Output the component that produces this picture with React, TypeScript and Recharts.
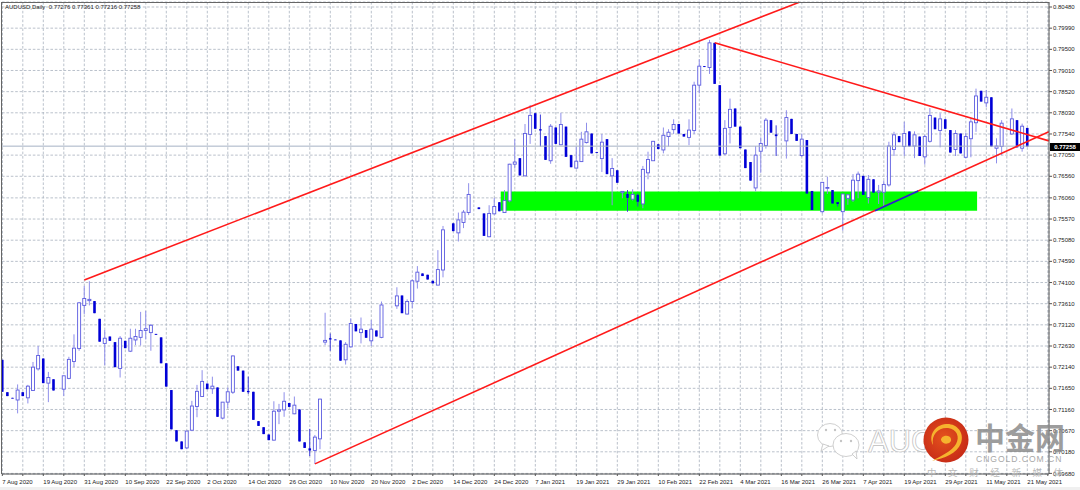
import { Bar, CartesianGrid, ComposedChart, ReferenceArea, ReferenceLine, XAxis, YAxis } from 'recharts';

// daily AUDUSD bars, left to right. null = no visible candle in the screenshot
const opens = [
  0.7231, 0.7156, 0.7143, 0.7138, 0.7156, 0.7143, 0.716, 0.721, 0.7234, 0.7177,
  0.7186, null, 0.7163, 0.7188, 0.7227, 0.7257, 0.7357, 0.7368, 0.7367, 0.7326,
  0.7269, 0.7285, 0.7272, 0.7211, 0.7275, 0.7251, 0.7277, 0.7283, 0.7299, 0.7294,
  0.7291, 0.7283, 0.7223, 0.7161, 0.7068, 0.7042, 0.7027, 0.7068, 0.7123, 0.7146,
  0.7176, 0.7164, 0.7167, 0.7096, 0.7133, 0.7156, 0.7216, 0.7206, 0.7159, 0.7157,
  0.7089, 0.7075, 0.7058, 0.7045, 0.7112, 0.7115, 0.7131, 0.7106, 0.7116, 0.704,
  0.7026, 0.7021, 0.7048, 0.7272, 0.7281, 0.7278, 0.7276, 0.7231, 0.7261, 0.7314,
  0.7294, 0.73, 0.7275, 0.7299, 0.7283, null, null, 0.7356, 0.738, 0.7337,
  0.7366, 0.7413, 0.7431, 0.7428, 0.7414, 0.7404, 0.7439, null, 0.7547, 0.7525,
  0.7549, 0.7572, null, 0.7584, 0.757, 0.7516, 0.7569, 0.7596, 0.7572, 0.7599,
  0.7684, 0.7698, 0.7657, 0.7753, 0.7802, 0.7765, 0.7749, 0.7692, 0.7769, 0.7729,
  0.7771, 0.7705, 0.7675, 0.769, 0.7734, 0.7755, 0.7712, 0.7697, 0.7742, 0.7657,
  0.767, 0.7618, 0.7615, 0.7603, 0.7613, 0.7592, 0.7664, 0.7692, 0.773, 0.7717,
  0.7748, 0.7764, 0.7777, 0.7754, 0.7746, 0.7762, 0.7867, 0.7911, 0.7908, 0.7965,
  0.7867, 0.7708, 0.7769, 0.7813, 0.7771, 0.7718, 0.7689, 0.7629, 0.7714, 0.7727,
  0.7786, 0.7753, null, 0.7738, 0.7789, 0.7754, 0.7704, 0.774, 0.7622, null,
  0.7574, 0.7629, 0.7624, 0.7596, 0.7574, 0.7605, 0.7601, 0.7646, 0.7657, 0.7607,
  0.7649, 0.7619, 0.7619, 0.7636, 0.7718, 0.7749, 0.7725, 0.776, 0.7726, 0.7748,
  0.7701, 0.7737, 0.7792, 0.7762, 0.7788, 0.7763, 0.7718, 0.7755, 0.77, 0.7743,
  0.778, 0.7854, 0.7826, 0.7839, 0.7721, 0.7725, null, 0.7754, 0.7786, 0.7721, 0.7768,
];

const highs = [
  0.7231, 0.7156, 0.7143, 0.7174, 0.7156, 0.7173, 0.7226, 0.7263, 0.7234, 0.7203,
  0.7186, null, 0.7194, 0.7238, 0.729, 0.7365, 0.7402, 0.7413, 0.7367, 0.7326,
  0.73, 0.7285, 0.7272, 0.7286, 0.7275, 0.7303, 0.7303, 0.7342, 0.7344, 0.7314,
  0.7291, 0.7283, 0.7223, 0.7161, 0.7068, 0.7042, 0.7066, 0.7136, 0.7173, 0.7207,
  0.7176, 0.7192, 0.7167, 0.7133, 0.7167, 0.7241, 0.7216, 0.7206, 0.7192, 0.7157,
  0.7089, 0.7075, 0.7058, 0.7135, 0.7129, 0.7156, 0.7131, 0.7146, 0.7116, 0.704,
  0.7071, 0.7057, 0.7141, 0.734, 0.7292, 0.7278, 0.7276, 0.7272, 0.7327, 0.7314,
  0.7329, 0.73, 0.7323, 0.7299, 0.7366, null, null, 0.7399, 0.738, 0.7371,
  0.7417, 0.7448, 0.7431, 0.7428, 0.7414, 0.7485, 0.7541, null, 0.7547, 0.7572,
  0.7578, 0.764, null, 0.7584, 0.757, 0.7589, 0.7606, 0.7596, 0.7624, 0.7685,
  0.7742, 0.7698, 0.7777, 0.7821, 0.7802, 0.7799, 0.7749, 0.7777, 0.7769, 0.7803,
  0.7771, 0.7705, 0.7725, 0.7759, 0.778, 0.7755, 0.7712, 0.7754, 0.7742, 0.7698,
  0.767, 0.7621, 0.7624, 0.7626, 0.7616, 0.768, 0.7713, 0.7738, 0.773, 0.7769,
  0.7765, 0.7788, 0.7777, 0.7754, 0.7788, 0.7875, 0.7927, 0.7911, 0.7972, 0.7965,
  0.7867, 0.7786, 0.7836, 0.7813, 0.7771, 0.7718, 0.7689, 0.7726, 0.7746, 0.7791,
  0.7786, 0.7774, null, 0.7809, 0.7789, 0.7754, 0.7755, 0.774, 0.7622, null,
  0.7643, 0.7655, 0.7624, 0.7596, 0.7615, 0.7615, 0.7661, 0.7667, 0.7657, 0.7659,
  0.7649, 0.7636, 0.7646, 0.7736, 0.7759, 0.7749, 0.7782, 0.776, 0.776, 0.7748,
  0.7752, 0.7814, 0.7792, 0.7802, 0.7788, 0.7763, 0.7763, 0.7755, 0.7757, 0.779,
  0.7859, 0.7854, 0.7856, 0.7839, 0.7744, 0.7786, null, 0.7813, 0.7786, 0.7778, 0.7768,
];

const lows = [
  0.7157, 0.7147, 0.7142, 0.7107, 0.7147, 0.713, 0.7159, 0.7206, 0.7177, 0.7133,
  0.716, null, 0.7147, 0.7186, 0.7214, 0.7252, 0.7337, 0.7357, 0.7339, 0.7273,
  0.7218, 0.7275, 0.7214, 0.719, 0.7258, 0.7249, 0.7265, 0.7264, 0.7278, 0.7252,
  0.7289, 0.7223, 0.7169, 0.707, 0.7042, 0.7024, 0.7024, 0.7066, 0.7098, 0.7146,
  0.7163, 0.7152, 0.7099, 0.7093, 0.7119, 0.7152, 0.7206, 0.7157, 0.7152, 0.7092,
  0.7078, 0.7059, 0.7045, 0.7044, 0.7082, 0.7099, 0.7122, 0.7105, 0.7042, 0.7027,
  0.7008, 0.699, 0.7024, 0.7265, 0.7252, 0.7277, 0.7229, 0.722, 0.726, 0.7297,
  0.7269, 0.7282, 0.7263, 0.7285, 0.7281, null, null, 0.7349, 0.7339, 0.7336,
  0.735, 0.7396, 0.7425, 0.7417, 0.7408, 0.7404, 0.7422, null, 0.7529, 0.7505,
  0.7536, 0.7566, null, 0.758, 0.7518, 0.7515, 0.7568, 0.7575, 0.7571, 0.7596,
  0.7674, 0.7658, 0.7656, 0.7731, 0.7766, 0.7725, 0.7694, 0.7685, 0.7731, 0.7728,
  0.7701, 0.7677, 0.7674, 0.7689, 0.7732, 0.7709, 0.7711, 0.7666, 0.7661, 0.7589,
  0.7641, 0.7605, 0.7574, 0.76, 0.7586, 0.7582, 0.7649, 0.7692, 0.7719, 0.7709,
  0.7725, 0.7754, 0.7755, 0.7748, 0.7728, 0.7754, 0.7848, 0.7909, 0.7893, 0.787,
  0.7704, 0.7705, 0.7732, 0.7771, 0.7721, 0.7675, 0.7646, 0.7621, 0.7664, 0.772,
  0.7757, 0.7703, null, 0.7697, 0.7754, 0.7738, 0.7701, 0.7616, 0.7578, null,
  0.757, 0.7615, 0.7593, 0.7586, 0.753, 0.759, 0.7597, 0.7605, 0.7613, 0.7593,
  0.7618, 0.7592, 0.7584, 0.7632, 0.7703, 0.7735, 0.7703, 0.7725, 0.7698, 0.7703,
  0.7683, 0.7734, 0.7765, 0.7723, 0.7766, 0.7711, 0.7703, 0.7709, 0.7698, 0.77,
  0.7759, 0.7829, 0.7816, 0.7725, 0.7686, 0.7705, null, 0.7752, 0.7723, 0.7713, 0.7725,
];

const closes = [
  0.7157, 0.7147, 0.7142, 0.7161, 0.7147, 0.717, 0.7214, 0.7241, 0.7177, 0.719,
  0.716, null, 0.7194, 0.7232, 0.7258, 0.7363, 0.7373, 0.7371, 0.7339, 0.7273,
  0.7281, 0.7275, 0.7214, 0.7281, 0.7258, 0.7281, 0.7285, 0.7299, 0.7303, 0.7311,
  0.7289, 0.7223, 0.7169, 0.707, 0.7042, 0.7024, 0.7066, 0.7124, 0.7158, 0.7181,
  0.7163, 0.717, 0.7099, 0.7133, 0.7157, 0.724, 0.7206, 0.7157, 0.7156, 0.7092,
  0.7078, 0.7059, 0.7045, 0.7112, 0.7115, 0.7135, 0.7122, 0.7126, 0.7042, 0.7027,
  0.7021, 0.7052, 0.714, 0.7276, 0.7278, 0.7277, 0.7229, 0.7267, 0.7315, 0.7297,
  0.7302, 0.7282, 0.7302, 0.7285, 0.7358, null, null, 0.7379, 0.7339, 0.7366,
  0.7414, 0.7434, 0.7425, 0.7417, 0.7408, 0.744, 0.7532, null, 0.7529, 0.7555,
  0.7573, 0.7614, null, 0.758, 0.7518, 0.757, 0.7586, 0.7575, 0.76, 0.7684,
  0.7689, 0.7658, 0.7755, 0.7797, 0.7766, 0.7762, 0.7694, 0.7772, 0.7731, 0.7776,
  0.7701, 0.7677, 0.7691, 0.7742, 0.7759, 0.7709, 0.7711, 0.7735, 0.7661, 0.7674,
  0.7641, 0.7621, 0.7606, 0.7614, 0.7597, 0.7672, 0.7695, 0.7737, 0.7719, 0.7751,
  0.7758, 0.7776, 0.7755, 0.7748, 0.7763, 0.7867, 0.7911, 0.7909, 0.7965, 0.787,
  0.7704, 0.7767, 0.7811, 0.7771, 0.7721, 0.7675, 0.7646, 0.7705, 0.7732, 0.7786,
  0.7757, 0.7749, null, 0.7792, 0.7754, 0.7738, 0.7742, 0.7616, 0.7578, null,
  0.7642, 0.763, 0.7593, 0.7592, 0.7615, 0.7613, 0.7647, 0.7661, 0.7613, 0.7649,
  0.7618, 0.7622, 0.7637, 0.7726, 0.7752, 0.7735, 0.7755, 0.7725, 0.7752, 0.7703,
  0.7748, 0.7797, 0.7765, 0.7789, 0.7766, 0.7711, 0.7755, 0.7709, 0.7748, 0.7782,
  0.7842, 0.7829, 0.7839, 0.7725, 0.7726, 0.7779, null, 0.7789, 0.7723, 0.7772, 0.7725,
];

const dateLabels = [
  '7 Aug 2020', '19 Aug 2020', '31 Aug 2020', '10 Sep 2020', '22 Sep 2020', '2 Oct 2020', '14 Oct 2020',
  '26 Oct 2020', '10 Nov 2020', '20 Nov 2020', '2 Dec 2020', '14 Dec 2020', '24 Dec 2020', '7 Jan 2021',
  '19 Jan 2021', '29 Jan 2021', '10 Feb 2021', '22 Feb 2021', '4 Mar 2021', '16 Mar 2021', '26 Mar 2021',
  '7 Apr 2021', '19 Apr 2021', '29 Apr 2021', '11 May 2021', '21 May 2021',
];

const priceTicks = [
  0.8048, 0.7999, 0.795, 0.7901, 0.7852, 0.7803, 0.7754, 0.7705, 0.7656, 0.7606, 0.7557, 0.7508,
  0.7459, 0.741, 0.7361, 0.7312, 0.7263, 0.7214, 0.7165, 0.7116, 0.7067, 0.7018, 0.6968,
];

const lastPrice = 0.77258;
const fontFamily = '"Liberation Sans", Arial, sans-serif';

// grid every 4 bars, a date every 8
const barTicks: number[] = [];
for (let i = 0; i <= 204; i += 4) barTicks.push(i);

const bars = opens.map((open, i) => ({
  i,
  open,
  close: closes[i],
  high: highs[i],
  low: lows[i],
  range: open === null ? null : [lows[i], highs[i]],
}));

function Candle(props: any) {
  const { x, y, width, height, payload } = props;
  if (payload.open === null || !height) return null;
  const cx = x + width / 2;
  const perUnit = height / (payload.high - payload.low);
  const top = y + (payload.high - Math.max(payload.open, payload.close)) * perUnit;
  const bottom = y + (payload.high - Math.min(payload.open, payload.close)) * perUnit;
  const up = payload.close > payload.open;
  return (
    <g>
      <line x1={cx} x2={cx} y1={y} y2={y + height} stroke={up ? '#8f8fea' : '#3a3ad8'} strokeWidth={1} />
      {up ? (
        <rect x={cx - 1.5} y={top} width={3} height={Math.max(bottom - top, 0.8)} fill="#fff" stroke="#5c5ce0" strokeWidth={0.9} />
      ) : (
        <rect x={cx - 1.3} y={top} width={2.6} height={Math.max(bottom - top, 0.8)} fill="#0000d6" />
      )}
    </g>
  );
}

function DateTick(props: any) {
  const { x, y, payload } = props;
  const label = payload.value % 8 === 0 ? dateLabels[payload.value / 8] : '';
  return (
    <text x={x} y={y + 6} fontSize={6} fontFamily={fontFamily} fill="#222" textAnchor="start">
      {label}
    </text>
  );
}

function Watermark() {
  return (
    <svg width={1080} height={490} style={{ position: 'absolute', left: 0, top: 0, pointerEvents: 'none' }}>
      <defs>
        <radialGradient id="logoFill" cx="0.45" cy="0.45" r="0.6">
          <stop offset="0%" stopColor="#e4511d" />
          <stop offset="100%" stopColor="#c62a17" />
        </radialGradient>
      </defs>
      <g fill="#fff" stroke="#c4c4c4" strokeWidth={0.8}>
        <ellipse cx={830} cy={435} rx={12.5} ry={11.5} />
        <path d="M823 444 L821 451 L829 446 Z" />
        <ellipse cx={846} cy={445} rx={13} ry={11.5} />
        <path d="M852 454 L857 459 L856 451 Z" />
      </g>
      <g fill="#c4c4c4">
        <circle cx={826} cy={430} r={1.2} />
        <circle cx={835} cy={430} r={1.2} />
        <circle cx={841} cy={441} r={1.2} />
        <circle cx={851} cy={441} r={1.2} />
      </g>
      <text x={868} y={452} fontSize={31} fontFamily={fontFamily} fill="#fff" stroke="#bdbdbd" strokeWidth={0.7}>
        AUG
      </text>
      <circle cx={946} cy={440} r={22.5} fill="url(#logoFill)" />
      <path
        d="M933 445 C931 434 939 427 948 428 C957 429 960 437 956 444 C952 451 941 456 932 461 C944 458 957 454 961 443 C965 432 956 423 946 424 C935 425 928 435 933 445 Z M941 440 C941 435 950 434 951 439 C952 444 943 446 941 440 Z"
        fill="#f6b32e"
        fillRule="evenodd"
      />
      <text x={975} y={449} fontSize={30} fontWeight={700} fontFamily='"Noto Sans CJK SC"' fill="#8c8c8c" opacity={0.85}>
        中金网
      </text>
      <text x={976} y={462} fontSize={8.6} fontFamily={fontFamily} letterSpacing={0.95} fill="#a8a8a8">
        CNGOLD.COM.CN
      </text>
      <text x={927} y={476} fontSize={9.5} fontFamily='"Noto Sans CJK SC"' letterSpacing={11.6} fill="#b8b8b8">
        中文财经新媒体
      </text>
    </svg>
  );
}

export default function App() {
  return (
    <div style={{ position: 'absolute', left: 0, top: 0, width: 1080, height: 490, background: '#fff', overflow: 'hidden' }}>
      <div style={{ position: 'absolute', left: 0, top: 487, width: 1080, height: 3, background: '#f0f0f0' }} />
      <ComposedChart
        width={1080}
        height={490}
        data={bars}
        margin={{ top: 2, right: 0, bottom: 0, left: 2 }}
        barSize={3}
      >
        <CartesianGrid stroke="#aeb6c2" strokeDasharray="2.6 1.8" strokeWidth={0.85} />
        <XAxis
          type="number"
          dataKey="i"
          domain={[-0.06, 204.23]}
          ticks={barTicks}
          interval={0}
          height={16}
          tick={<DateTick />}
          tickSize={2}
          stroke="#555"
          allowDataOverflow
        />
        <YAxis
          orientation="right"
          width={31}
          domain={[0.69666, 0.80596]}
          ticks={priceTicks}
          interval={0}
          tickSize={3}
          tickMargin={1}
          tickFormatter={(v: number) => v.toFixed(5)}
          tick={{ fontSize: 6, fontFamily, fill: '#222' }}
          stroke="#555"
          allowDataOverflow
        />
        <ReferenceArea x1={97.25} x2={190.2} y1={0.7576} y2={0.7621} fill="#00ff00" fillOpacity={1} stroke="none" />
        <ReferenceLine y={lastPrice} stroke="#a6b2c4" strokeWidth={1} />
        <Bar dataKey="range" shape={<Candle />} isAnimationActive={false} />
        <ReferenceLine segment={[{ x: 16, y: 0.7416 }, { x: 155.5, y: 0.8059 }]} stroke="#ff1a1a" strokeWidth={1.6} />
        <ReferenceLine segment={[{ x: 61, y: 0.699 }, { x: 204.2, y: 0.7759 }]} stroke="#ff1a1a" strokeWidth={1.6} />
        <ReferenceLine segment={[{ x: 139, y: 0.7965 }, { x: 204.2, y: 0.7738 }]} stroke="#ff1a1a" strokeWidth={1.6} />
        <ReferenceLine segment={[{ x: 170.3, y: 0.7576 }, { x: 178.7, y: 0.7622 }]} stroke="#1030d8" strokeWidth={1.6} />
      </ComposedChart>
      <div style={{ position: 'absolute', left: 1, top: 2, width: 1048, height: 472, borderLeft: '1px solid #666', borderTop: '1px solid #666', boxSizing: 'border-box', pointerEvents: 'none' }} />
      <div style={{ position: 'absolute', left: 5, top: 4, font: `6px ${fontFamily}`, color: '#222', whiteSpace: 'pre', background: 'transparent' }}>
        {'AUDUSD,Daily  0.77276 0.77361 0.77216 0.77258'}
      </div>
      <div style={{ position: 'absolute', left: 1050, top: 143, width: 30, height: 8, background: '#000', color: '#fff', font: `bold 6px ${fontFamily}`, lineHeight: '8px', textAlign: 'center' }}>
        0.77258
      </div>
      <Watermark />
    </div>
  );
}
